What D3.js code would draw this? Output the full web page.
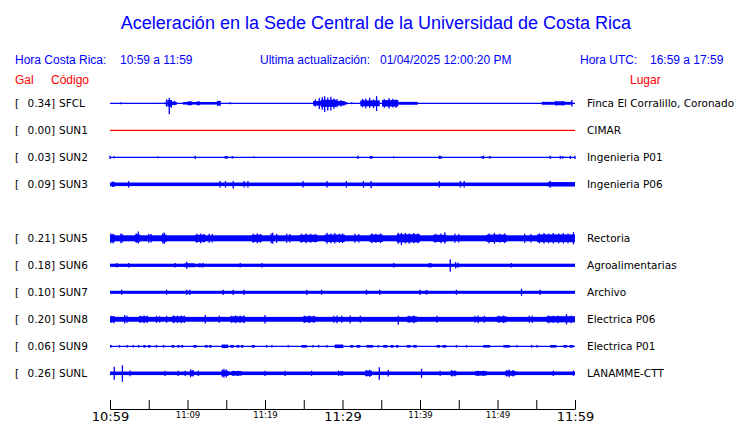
<!DOCTYPE html>
<html>
<head>
<meta charset="utf-8">
<script src="https://cdn.jsdelivr.net/npm/d3@7"></script>
<style>
  body { margin: 0; background: #fff; }
  svg { display: block; }
</style>
</head>
<body>
<div id="chart"></div>
<script>
// Station slots (SUN4 has no record, its row stays empty)
var slots = ['SFCL', 'SUN1', 'SUN2', 'SUN3', 'SUN4', 'SUN5', 'SUN6', 'SUN7', 'SUN8', 'SUN9', 'SUNL'];
var codes = ['SFCL', 'SUN1', 'SUN2', 'SUN3', 'SUN5', 'SUN6', 'SUN7', 'SUN8', 'SUN9', 'SUNL'];
var peakGal = [0.34, 0.00, 0.03, 0.09, 0.21, 0.18, 0.10, 0.20, 0.06, 0.26];
var places = ['Finca El Corralillo, Coronado', 'CIMAR', 'Ingenieria P01', 'Ingenieria P06',
  'Rectoria', 'Agroalimentarias', 'Archivo', 'Electrica P06', 'Electrica P01', 'LANAMME-CTT'];

// axis ticks, minutes after 10:59
var tickMinutes = [0, 5, 10, 15, 20, 25, 30, 35, 40, 45, 50, 55, 60];
var tickLabels = ['10:59', '', '11:09', '', '11:19', '', '11:29', '', '11:39', '', '11:49', '', '11:59'];
var bigLabels = ['10:59', '11:29', '11:59'];

// envelope segments [startMin, endMin, halfAmplitudeGal]
var segSFCL = [[7.4, 8.0, 0.1], [8.0, 8.6, 0.05], [9.4, 14.2, 0.04], [10.0, 10.6, 0.06], [11.2, 11.6, 0.06],
  [13.8, 14.3, 0.075], [26.2, 30.3, 0.07], [27.2, 29.2, 0.11], [30.2, 30.6, 0.04], [32.3, 34.8, 0.09],
  [35.1, 37.2, 0.1], [37.2, 39.7, 0.045], [55.7, 59.6, 0.045], [57.4, 58.7, 0.06]];
var spkSFCL = [[1.4, 0.03, 0.03], [6.1, 0.02, 0.02], [7.1, 0.03, 0.03], [7.3, 0.12, 0.1], [7.65, 0.17, 0.34],
  [7.9, 0.1, 0.14], [8.3, 0.07, 0.06], [15.5, 0.03, 0.03], [26.5, 0.12, 0.1], [27.0, 0.16, 0.18],
  [27.4, 0.19, 0.2], [27.7, 0.22, 0.27], [28.1, 0.18, 0.22], [28.5, 0.2, 0.22], [28.9, 0.15, 0.17],
  [29.3, 0.13, 0.12], [29.8, 0.1, 0.1], [31.2, 0.03, 0.03], [32.6, 0.14, 0.12], [33.0, 0.15, 0.15],
  [33.5, 0.17, 0.14], [34.0, 0.12, 0.15], [34.4, 0.22, 0.24], [35.4, 0.13, 0.14], [36.0, 0.16, 0.16],
  [36.5, 0.14, 0.13], [36.9, 0.12, 0.14], [57.6, 0.07, 0.07], [58.4, 0.07, 0.07], [59.6, 0.1, 0.1]];

var segSUN1 = [];
var spkSUN1 = [];

var segSUN2 = [[14.8, 15.2, 0.04], [15.7, 15.9, 0.04], [33.5, 33.9, 0.04], [48.9, 49.1, 0.04], [58.3, 58.5, 0.04]];
var spkSUN2 = [[0, 0.05, 0.05], [0.55, 0.04, 0.04], [6.2, 0.03, 0.03], [11.0, 0.05, 0.05], [18.6, 0.03, 0.03],
  [32.0, 0.05, 0.05], [36.6, 0.03, 0.03], [42.5, 0.05, 0.05], [42.7, 0.05, 0.05], [48.0, 0.04, 0.04],
  [48.2, 0.05, 0.05], [56.8, 0.05, 0.05], [58.1, 0.05, 0.05], [59.4, 0.05, 0.05], [60, 0.05, 0.05]];

var segSUN3 = [[0, 60, 0.055], [0.2, 0.6, 0.08], [56.5, 60, 0.068]];
var spkSUN3 = [[2.4, 0.1, 0.1], [14.2, 0.1, 0.1], [14.9, 0.1, 0.1], [15.9, 0.1, 0.13], [17.3, 0.1, 0.1],
  [17.8, 0.1, 0.1], [24.9, 0.1, 0.1], [28.0, 0.1, 0.1], [30.5, 0.1, 0.1], [32.7, 0.1, 0.1],
  [33.7, 0.1, 0.12], [42.5, 0.1, 0.1], [45.2, 0.1, 0.1], [45.7, 0.1, 0.1], [56.8, 0.11, 0.11]];

var segSUN5 = [[0, 60, 0.093], [0, 0.6, 0.115], [3.2, 3.9, 0.115], [6.7, 7.3, 0.115], [11.0, 12.3, 0.11],
  [18.3, 19.6, 0.11], [24.5, 26.8, 0.11], [27.7, 30.3, 0.115], [33.5, 35.2, 0.115],
  [37.0, 40.0, 0.125], [41.7, 43.4, 0.11], [48.6, 51.2, 0.115], [55.1, 60, 0.12]];
var spkSUN5 = [[0.1, 0.15, 0.15], [0.4, 0.14, 0.16], [1.4, 0.15, 0.15], [1.6, 0.13, 0.13], [3.4, 0.15, 0.14],
  [3.65, 0.21, 0.16], [5.0, 0.14, 0.14], [5.3, 0.13, 0.13], [6.8, 0.15, 0.15], [7.0, 0.18, 0.18],
  [11.2, 0.14, 0.14], [11.7, 0.15, 0.15], [12.1, 0.13, 0.13], [12.8, 0.14, 0.14], [13.2, 0.13, 0.13],
  [18.5, 0.14, 0.14], [19.0, 0.15, 0.15], [19.4, 0.13, 0.13], [20.8, 0.15, 0.15], [21.0, 0.17, 0.17],
  [21.5, 0.14, 0.14], [22.8, 0.14, 0.14], [23.2, 0.13, 0.13], [24.7, 0.14, 0.14], [25.3, 0.15, 0.15],
  [25.9, 0.14, 0.14], [26.5, 0.13, 0.13], [28.0, 0.17, 0.17], [28.5, 0.15, 0.15], [29.0, 0.16, 0.16],
  [29.6, 0.14, 0.14], [30.0, 0.15, 0.15], [31.6, 0.14, 0.14], [32.1, 0.13, 0.13], [33.8, 0.15, 0.15],
  [34.3, 0.14, 0.14], [34.9, 0.15, 0.15], [37.2, 0.17, 0.17], [37.6, 0.17, 0.21], [38.1, 0.16, 0.16],
  [38.6, 0.15, 0.17], [39.2, 0.16, 0.15], [39.7, 0.15, 0.15], [42.0, 0.14, 0.14], [42.7, 0.15, 0.15],
  [43.2, 0.19, 0.16], [44.5, 0.14, 0.14], [45.0, 0.13, 0.13], [48.9, 0.15, 0.15], [49.6, 0.17, 0.17],
  [50.3, 0.14, 0.14], [50.9, 0.15, 0.15], [53.5, 0.14, 0.14], [54.3, 0.13, 0.13], [55.4, 0.15, 0.15],
  [56.0, 0.16, 0.16], [56.6, 0.15, 0.15], [57.2, 0.16, 0.16], [57.9, 0.15, 0.15], [58.5, 0.16, 0.16],
  [59.1, 0.15, 0.15], [59.8, 0.19, 0.19]];

var segSUN6 = [[0, 60, 0.05], [9.6, 10.9, 0.06], [41.1, 41.5, 0.065]];
var spkSUN6 = [[0.9, 0.07, 0.07], [2.4, 0.07, 0.07], [8.4, 0.07, 0.07], [9.9, 0.11, 0.11],
  [11.6, 0.07, 0.07], [12.0, 0.07, 0.07], [16.8, 0.07, 0.07], [19.6, 0.07, 0.07],
  [36.6, 0.07, 0.07], [43.9, 0.19, 0.2], [44.6, 0.1, 0.1], [44.9, 0.075, 0.075], [51.8, 0.07, 0.07]];

var segSUN7 = [[0, 60, 0.047], [40.7, 41.0, 0.065]];
var spkSUN7 = [[1.5, 0.08, 0.08], [7.3, 0.08, 0.08], [9.9, 0.08, 0.08], [10.3, 0.08, 0.08],
  [14.6, 0.08, 0.08], [15.9, 0.08, 0.08], [17.3, 0.08, 0.08], [25.4, 0.08, 0.08],
  [27.3, 0.08, 0.08], [33.1, 0.08, 0.08], [34.8, 0.08, 0.08], [40.0, 0.08, 0.08],
  [44.7, 0.08, 0.08], [53.1, 0.11, 0.11], [55.5, 0.08, 0.08]];

var segSUN8 = [[0, 60, 0.075], [0, 0.6, 0.09], [3.7, 4.9, 0.09], [8.0, 9.7, 0.09], [15.5, 17.4, 0.09],
  [24.9, 26.5, 0.09], [38.3, 39.6, 0.09], [49.9, 51.2, 0.09], [56.3, 60, 0.095]];
var spkSUN8 = [[0.2, 0.11, 0.11], [0.5, 0.1, 0.12], [1.9, 0.13, 0.13], [2.2, 0.11, 0.11], [3.9, 0.11, 0.11],
  [4.4, 0.12, 0.12], [4.8, 0.11, 0.11], [6.0, 0.11, 0.11], [6.4, 0.1, 0.1], [7.3, 0.11, 0.11],
  [8.2, 0.12, 0.12], [8.7, 0.11, 0.11], [9.2, 0.12, 0.12], [9.6, 0.11, 0.11], [12.3, 0.13, 0.13],
  [14.1, 0.11, 0.11], [15.7, 0.11, 0.11], [16.2, 0.12, 0.12], [16.8, 0.11, 0.11], [17.3, 0.12, 0.12],
  [20.0, 0.13, 0.13], [25.1, 0.11, 0.11], [25.7, 0.12, 0.12], [26.3, 0.11, 0.11], [28.9, 0.11, 0.11],
  [29.3, 0.12, 0.12], [29.9, 0.11, 0.11], [31.0, 0.12, 0.12], [32.3, 0.11, 0.11], [37.2, 0.11, 0.17],
  [38.6, 0.11, 0.11], [39.2, 0.12, 0.12], [42.2, 0.11, 0.11], [47.1, 0.11, 0.11], [47.5, 0.12, 0.12],
  [48.3, 0.11, 0.11], [50.2, 0.11, 0.11], [50.8, 0.12, 0.12], [54.1, 0.11, 0.11], [54.5, 0.11, 0.11],
  [56.6, 0.12, 0.12], [57.2, 0.11, 0.11], [57.8, 0.12, 0.12], [58.9, 0.16, 0.16], [59.5, 0.12, 0.12]];

var segSUN9 = [[0, 0.2, 0.04], [1.15, 1.3, 0.04], [2.15, 2.3, 0.04], [4.3, 4.6, 0.04], [4.9, 5.2, 0.04],
  [7.95, 8.3, 0.04], [8.7, 9.0, 0.04], [9.2, 9.45, 0.04], [10.75, 11.2, 0.04], [12.25, 12.6, 0.04],
  [12.8, 13.1, 0.04], [14.4, 15.25, 0.055], [15.5, 16.0, 0.04], [16.3, 16.7, 0.04], [16.9, 17.2, 0.04],
  [18.3, 18.7, 0.04], [24.7, 25.4, 0.04], [29.0, 30.1, 0.055], [31.0, 31.4, 0.04], [31.8, 32.3, 0.04],
  [33.1, 33.95, 0.04], [35.25, 35.8, 0.04], [36.2, 36.6, 0.04], [36.9, 37.2, 0.04], [38.3, 38.8, 0.04],
  [39.1, 39.6, 0.04], [42.15, 42.6, 0.04], [42.9, 43.4, 0.04], [48.15, 49.05, 0.04], [50.75, 51.6, 0.04],
  [56.8, 57.6, 0.04], [58.5, 59.0, 0.04], [59.3, 59.8, 0.04]];
var spkSUN9 = [[3.0, 0.04, 0.04], [3.7, 0.04, 0.04], [6.0, 0.04, 0.04], [6.9, 0.04, 0.04],
  [20.2, 0.04, 0.04], [20.9, 0.04, 0.04], [23.0, 0.04, 0.04], [26.2, 0.04, 0.04], [26.9, 0.04, 0.04],
  [28.0, 0.04, 0.04], [34.6, 0.04, 0.04], [44.7, 0.04, 0.04], [46.0, 0.04, 0.04], [52.5, 0.04, 0.04],
  [54.4, 0.04, 0.04], [55.1, 0.04, 0.04]];

var segSUNL = [[0, 60, 0.055], [10.3, 10.75, 0.08], [14.4, 15.3, 0.08], [15.7, 17.0, 0.07], [29.7, 30.1, 0.07],
  [32.9, 33.8, 0.08], [43.9, 44.7, 0.07], [47.1, 48.6, 0.07], [51.0, 52.3, 0.075]];
var spkSUNL = [[0.55, 0.2, 0.2], [1.6, 0.25, 0.26], [2.6, 0.09, 0.09], [7.1, 0.08, 0.08], [8.8, 0.08, 0.08],
  [9.7, 0.08, 0.08], [10.4, 0.12, 0.12], [10.7, 0.1, 0.1], [11.4, 0.08, 0.08], [14.5, 0.11, 0.11],
  [14.7, 0.14, 0.14], [15.0, 0.12, 0.12], [15.9, 0.08, 0.08], [16.5, 0.08, 0.08], [20.0, 0.08, 0.08],
  [22.6, 0.08, 0.08], [26.0, 0.08, 0.08], [29.5, 0.08, 0.08], [33.1, 0.1, 0.1], [33.5, 0.11, 0.11],
  [34.75, 0.19, 0.2], [35.9, 0.1, 0.1], [40.2, 0.14, 0.14], [42.6, 0.08, 0.08], [44.1, 0.1, 0.1],
  [44.5, 0.09, 0.09], [47.5, 0.08, 0.08], [48.2, 0.08, 0.08], [51.2, 0.1, 0.1], [51.5, 0.12, 0.12],
  [52.0, 0.1, 0.1], [57.2, 0.08, 0.08], [59.8, 0.08, 0.08]];

var segments = [segSFCL, segSUN1, segSUN2, segSUN3, segSUN5, segSUN6, segSUN7, segSUN8, segSUN9, segSUNL];
var spikes = [spkSFCL, spkSUN1, spkSUN2, spkSUN3, spkSUN5, spkSUN6, spkSUN7, spkSUN8, spkSUN9, spkSUNL];

var blue = '#0000ff';
var red = '#ff0000';
var width = 740, height = 423;
var labelFont = 'DejaVu Sans, Verdana, sans-serif';
var headFont = 'Liberation Sans, Arial, Helvetica, sans-serif';

var svg = d3.select('#chart').append('svg')
  .attr('width', width)
  .attr('height', height);

// header
svg.append('text')
  .attr('x', 376).attr('y', 29)
  .attr('text-anchor', 'middle')
  .style('font-family', headFont).style('font-size', '18px')
  .style('fill', blue)
  .text('Aceleración en la Sede Central de la Universidad de Costa Rica');

var head = [
  { x: 15, t: 'Hora Costa Rica:' }, { x: 120, t: '10:59 a 11:59' },
  { x: 260, t: 'Ultima actualización:' }, { x: 380, t: '01/04/2025 12:00:20 PM' },
  { x: 580, t: 'Hora UTC:' }, { x: 650, t: '16:59 a 17:59' }
];
svg.selectAll('text.head').data(head).enter().append('text')
  .attr('class', 'head')
  .attr('x', function (d) { return d.x; }).attr('y', 64)
  .style('font-family', headFont).style('font-size', '12px')
  .style('fill', blue)
  .text(function (d) { return d.t; });

var head2 = [{ x: 15, t: 'Gal' }, { x: 51, t: 'Código' }, { x: 630, t: 'Lugar' }];
svg.selectAll('text.head2').data(head2).enter().append('text')
  .attr('class', 'head2')
  .attr('x', function (d) { return d.x; }).attr('y', 84)
  .style('font-family', headFont).style('font-size', '12px')
  .style('fill', red)
  .text(function (d) { return d.t; });

// scales
var t0 = new Date(2025, 0, 4, 10, 59);
var xScale = d3.scaleTime()
  .domain([t0, d3.timeMinute.offset(t0, 60)])
  .range([110, 575]);
function xm(m) { return xScale(new Date(t0.getTime() + m * 60000)); }

var rowScale = d3.scalePoint()
  .domain(slots)
  .range([103.3, 373.3]);

var ampScale = d3.scaleLinear()
  .domain([0, 0.34])
  .range([0, 11]);

// rows
var rows = svg.selectAll('g.row').data(codes).enter().append('g')
  .attr('class', 'row')
  .attr('transform', function (d) { return 'translate(0,' + rowScale(d) + ')'; });

function label(sel) {
  return sel.attr('y', 4)
    .style('font-family', labelFont).style('font-size', '10.5px').style('fill', '#000');
}
label(rows.append('text').attr('x', 15)).text('[');
label(rows.append('text').attr('x', 55).attr('text-anchor', 'end'))
  .text(function (d, i) { return peakGal[i].toFixed(2) + ']'; });
label(rows.append('text').attr('x', 59)).text(function (d) { return d; });
label(rows.append('text').attr('x', 587)).text(function (d, i) { return places[i]; });

// baseline of each trace
rows.append('line')
  .attr('x1', xm(0)).attr('x2', xm(60))
  .attr('y1', 0).attr('y2', 0)
  .style('stroke', function (d, i) { return peakGal[i] === 0 ? red : blue; })
  .style('stroke-width', 1.2);

rows.each(function (d, i) {
  var g = d3.select(this);
  g.selectAll('rect.seg').data(segments[i]).enter().append('rect')
    .attr('class', 'seg')
    .attr('x', function (s) { return xm(s[0]); })
    .attr('width', function (s) { return Math.max(1, xm(s[1]) - xm(s[0])); })
    .attr('y', function (s) { return -ampScale(s[2]); })
    .attr('height', function (s) { return 2 * ampScale(s[2]); })
    .style('fill', blue);
  g.selectAll('line.spk').data(spikes[i]).enter().append('line')
    .attr('class', 'spk')
    .attr('x1', function (s) { return xm(s[0]); })
    .attr('x2', function (s) { return xm(s[0]); })
    .attr('y1', function (s) { return -ampScale(s[1]); })
    .attr('y2', function (s) { return ampScale(s[2]); })
    .style('stroke', blue)
    .style('stroke-width', 1.3);
});

// time axis
var xAxis = d3.axisBottom(xScale)
  .tickValues(tickMinutes.map(function (m) { return d3.timeMinute.offset(t0, m); }))
  .tickSizeInner(-9)
  .tickSizeOuter(0)
  .tickPadding(3)
  .tickFormat(function (d, i) { return tickLabels[i]; });

var axisEle = svg.append('g')
  .attr('transform', 'translate(0,409)')
  .call(xAxis);

axisEle.select('.domain').style('stroke', '#000');
axisEle.selectAll('.tick line').style('stroke', '#000');
axisEle.selectAll('.tick text')
  .style('font-family', labelFont)
  .style('fill', '#000')
  .style('font-size', function (d, i) { return bigLabels.indexOf(tickLabels[i]) >= 0 ? '13px' : '8.5px'; });
</script>
</body>
</html>
